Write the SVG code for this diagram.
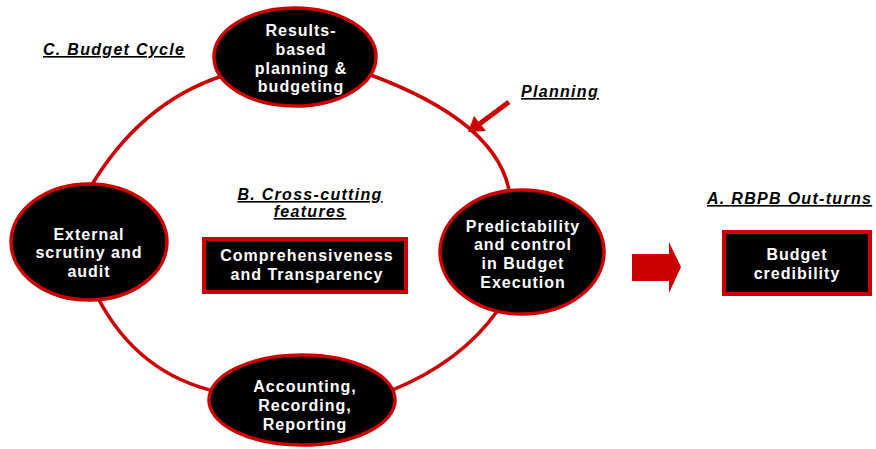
<svg xmlns="http://www.w3.org/2000/svg" width="876" height="449" viewBox="0 0 876 449">
  <style>
    .cycle { fill: none; stroke: #cc0000; stroke-width: 3.5; }
    .oval { fill: #000000; stroke: #cc0000; stroke-width: 3.5; }
    .box { fill: #000000; stroke: #cc0000; stroke-width: 4; }
    .lbl { font-family: "Liberation Sans", Arial, sans-serif; font-size: 16px; font-weight: bold; fill: #ffffff; text-anchor: middle; letter-spacing: 1px; }
    .head { font-family: "Liberation Sans", Arial, sans-serif; font-size: 16px; font-weight: bold; font-style: italic; fill: #000000; text-decoration: underline; letter-spacing: 1.3px; }
  </style>

  <!-- budget cycle connectors -->
  <g id="connectors">
    <path class="cycle" d="M222,76 Q139.5,103.5 90,188"/>
    <path class="cycle" d="M98,298 Q137.5,374 218,392"/>
    <path class="cycle" d="M390,391 Q461,362.5 498,310"/>
    <path class="cycle" d="M368,74 Q500.5,122.5 510,196"/>
    <!-- planning pointer -->
    <line x1="509" y1="102" x2="478" y2="125" stroke="#cc0000" stroke-width="5"/>
    <polygon points="468,132 474,116 486,131" fill="#cc0000"/>
    <!-- block arrow to out-turns -->
    <polygon points="632,254 669,254 669,242 681,267 669,293 669,281 632,281" fill="#cc0000"/>
  </g>

  <g id="heading-cycle">
    <text class="head" x="43" y="55">C. Budget Cycle</text>
  </g>
  <g id="heading-planning">
    <text class="head" x="521" y="97">Planning</text>
  </g>
  <g id="heading-crosscutting">
    <text class="head" x="310" y="200" text-anchor="middle">B. Cross-cutting</text>
    <text class="head" x="310" y="217" text-anchor="middle">features</text>
  </g>
  <g id="heading-outturns">
    <text class="head" x="707" y="204">A. RBPB Out-turns</text>
  </g>

  <g id="node-planning">
    <ellipse class="oval" cx="295" cy="57" rx="81" ry="49"/>
    <text class="lbl" x="301" y="36">Results-</text>
    <text class="lbl" x="301" y="55">based</text>
    <text class="lbl" x="301" y="74">planning &amp;</text>
    <text class="lbl" x="301" y="92">budgeting</text>
  </g>

  <g id="node-execution">
    <ellipse class="oval" cx="522" cy="252" rx="82" ry="62"/>
    <text class="lbl" x="523" y="232">Predictability</text>
    <text class="lbl" x="523" y="250">and control</text>
    <text class="lbl" x="523" y="269">in Budget</text>
    <text class="lbl" x="523" y="288">Execution</text>
  </g>

  <g id="node-audit">
    <ellipse class="oval" cx="89" cy="242" rx="78" ry="58"/>
    <text class="lbl" x="89" y="240">External</text>
    <text class="lbl" x="89" y="258">scrutiny and</text>
    <text class="lbl" x="89" y="277">audit</text>
  </g>

  <g id="node-accounting">
    <ellipse class="oval" cx="302" cy="400" rx="93" ry="45"/>
    <text class="lbl" x="305" y="392">Accounting,</text>
    <text class="lbl" x="305" y="411">Recording,</text>
    <text class="lbl" x="305" y="430">Reporting</text>
  </g>

  <g id="node-transparency">
    <rect class="box" x="204" y="239" width="202" height="53"/>
    <text class="lbl" x="307" y="261">Comprehensiveness</text>
    <text class="lbl" x="307" y="280">and Transparency</text>
  </g>

  <g id="node-credibility">
    <rect class="box" x="724" y="232" width="146" height="62"/>
    <text class="lbl" x="797" y="260">Budget</text>
    <text class="lbl" x="797" y="279">credibility</text>
  </g>
</svg>
